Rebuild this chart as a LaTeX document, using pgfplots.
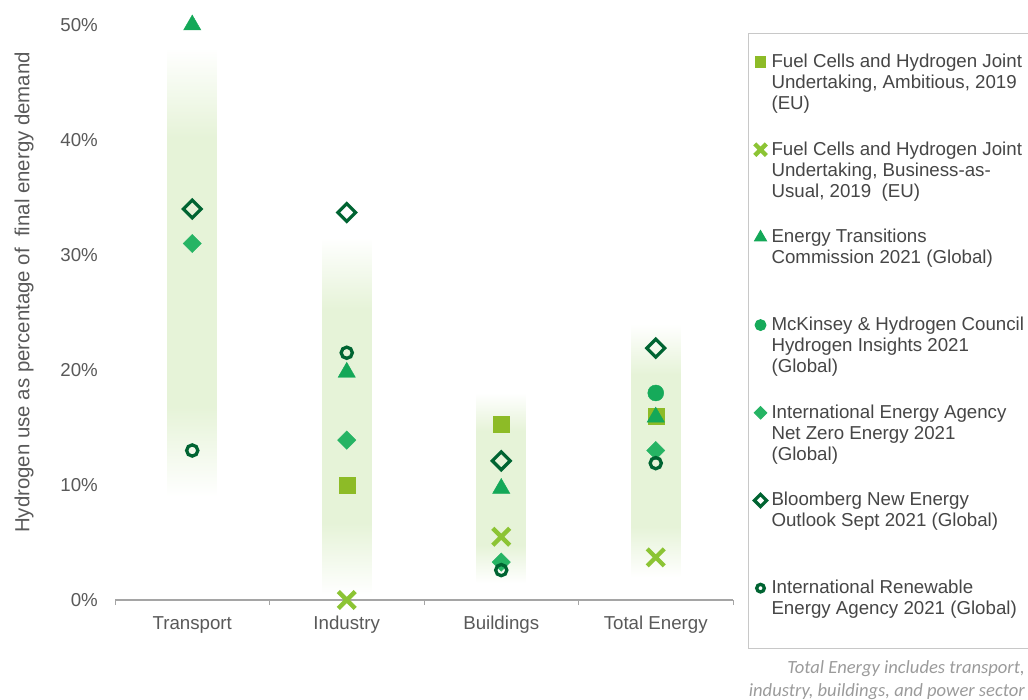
\documentclass[border=0pt]{standalone}
\usepackage{pgfplots}
\pgfplotsset{compat=1.18}
\usepackage{fontspec}
\setmainfont{Liberation Sans}
\newfontfamily\notefont{Carlito}
\definecolor{sqc}{RGB}{141,187,39}
\definecolor{xc}{RGB}{140,196,52}
\definecolor{trc}{RGB}{20,168,88}
\definecolor{cic}{RGB}{22,170,90}
\definecolor{dic}{RGB}{38,180,100}
\definecolor{dkc}{RGB}{0,100,50}
\definecolor{band}{RGB}{230,243,216}
\definecolor{axisgray}{RGB}{165,165,165}
\definecolor{textgray}{RGB}{89,89,89}
\definecolor{legtext}{RGB}{70,70,70}
\definecolor{legendgray}{RGB}{200,200,200}
\definecolor{notegray}{RGB}{155,155,155}
\pgfdeclareverticalshading{bandsh}{100bp}{color(0bp)=(white); color(25bp)=(white); color(35bp)=(band); color(65bp)=(band); color(75bp)=(white); color(100bp)=(white)}
\newcommand{\lgbox}[2]{\parbox[b][#1][t]{275bp}{\raggedright\strut #2}}
\pgfplotsset{limg/.style={legend image code/.code={\path[draw=none,fill=none] (0bp,0bp) rectangle (19bp,0.1bp);
    \pgfinterruptboundingbox
    \draw[##1, every mark/.append style={scale=0.68}] plot coordinates {(8bp,#1)};
    \endpgfinterruptboundingbox}}}
\begin{document}
\begin{tikzpicture}
\path[use as bounding box] (0,0) rectangle (1028bp,700bp);
\begin{axis}[
  at={(115bp,100bp)}, anchor=south west,
  scale only axis, width=618bp, height=575bp,
  xmin=-0.5, xmax=3.5, ymin=0, ymax=50,
  clip=false,
  axis x line*=bottom, axis y line*=left,
  y axis line style={draw=none},
  x axis line style={draw=axisgray, line width=1.3bp, -},
  xtick={0,1,2,3},
  xticklabels={Transport,Industry,Buildings,Total Energy},
  xtick align=outside,
  major tick length=0pt,
  extra x ticks={-0.5,0.5,1.5,2.5,3.5},
  extra x tick labels={},
  extra x tick style={major tick length=5bp, tick style={draw=axisgray, line width=1bp}},
  ytick={0,10,20,30,40,50},
  ytick style={draw=none},
  yticklabel={\pgfmathprintnumber{\tick}\%},
  /pgf/number format/assume math mode=true,
  tick label style={font=\fontsize{18.7bp}{21bp}\selectfont, text=textgray},
  yticklabel style={inner sep=0pt, xshift=-17bp},
  xticklabel style={inner sep=0pt, yshift=-16bp},
  ylabel={Hydrogen use as percentage of\ \ final energy demand},
  ylabel style={at={(axis description cs:-0.147,0.535)}, anchor=center, font=\fontsize{20.4bp}{23bp}\selectfont, text=textgray},
  legend style={at={(1.0243,0.9861)}, anchor=north west, draw=legendgray, line width=1bp,
    inner xsep=4bp, inner ysep=19.3bp, font=\fontsize{18.7bp}{21bp}\selectfont, text=legtext,
    cells={anchor=base west}, nodes={inner sep=0pt}, row sep=0pt, column sep=0pt},
]
% background bands (soft, faded ends)
\addplot[forget plot, draw=none, shade, shading=bandsh] coordinates {(-0.16,9)(0.16,9)(0.16,48)(-0.16,48)} -- cycle;
\addplot[forget plot, draw=none, shade, shading=bandsh] coordinates {(0.84,0.5)(1.16,0.5)(1.16,31.5)(0.84,31.5)} -- cycle;
\addplot[forget plot, draw=none, shade, shading=bandsh] coordinates {(1.84,1.5)(2.16,1.5)(2.16,18)(1.84,18)} -- cycle;
\addplot[forget plot, draw=none, shade, shading=bandsh] coordinates {(2.84,2)(3.16,2)(3.16,24)(2.84,24)} -- cycle;
% series
\addplot[only marks, mark=square*, color=sqc, mark size=8bp, limg=77bp]
  coordinates {(1,10.0)(2,15.3)(3,16.0)};
\addlegendentry{\lgbox{86.2bp}{Fuel Cells and Hydrogen Joint\\Undertaking, Ambitious, 2019\\(EU)}}
\addplot[only marks, mark=x, color=xc, mark size=12bp, mark options={line width=4.3bp}, limg=77bp]
  coordinates {(1,0.0)(2,5.5)(3,3.7)};
\addlegendentry{\lgbox{86.2bp}{Fuel Cells and Hydrogen Joint\\Undertaking, Business-as-\\Usual, 2019\ \ (EU)}}
\addplot[only marks, mark=triangle*, color=trc, mark size=10bp, limg=77bp]
  coordinates {(0,50.0)(1,19.8)(2,9.7)(3,15.9)};
\addlegendentry{\lgbox{86.2bp}{Energy Transitions\\Commission 2021 (Global)}}
\addplot[only marks, mark=*, color=cic, mark size=8bp, limg=77bp]
  coordinates {(3,18.0)};
\addlegendentry{\lgbox{86.2bp}{McKinsey \& Hydrogen Council\\Hydrogen Insights 2021\\(Global)}}
\addplot[only marks, mark=square*, color=dic, mark size=6.5bp, mark options={rotate=45}, limg=77bp]
  coordinates {(0,31.0)(1,13.9)(2,3.3)(3,13.0)};
\addlegendentry{\lgbox{86.2bp}{International Energy Agency\\Net Zero Energy 2021\\(Global)}}
\addplot[only marks, mark=square, color=dkc, mark size=6.3bp, mark options={rotate=45, line width=3.2bp}, limg=77bp]
  coordinates {(0,34.0)(1,33.7)(2,12.1)(3,21.9)};
\addlegendentry{\lgbox{86.2bp}{Bloomberg New Energy\\Outlook Sept 2021 (Global)}}
\addplot[only marks, mark=o, color=dkc, mark size=5.6bp, mark options={line width=3.3bp}, limg=39.9bp]
  coordinates {(0,13.0)(1,21.5)(2,2.6)(3,11.9)};
\addlegendentry{\lgbox{49.1bp}{International Renewable\\Energy Agency 2021 (Global)}}
\end{axis}
\node[anchor=north east, align=right, inner sep=0pt, text=notegray,
  font=\notefont\itshape\fontsize{18.6bp}{23bp}\selectfont] at (1025bp,40bp)
  {Total Energy includes transport,\\industry, buildings, and power sector};
\end{tikzpicture}
\end{document}
